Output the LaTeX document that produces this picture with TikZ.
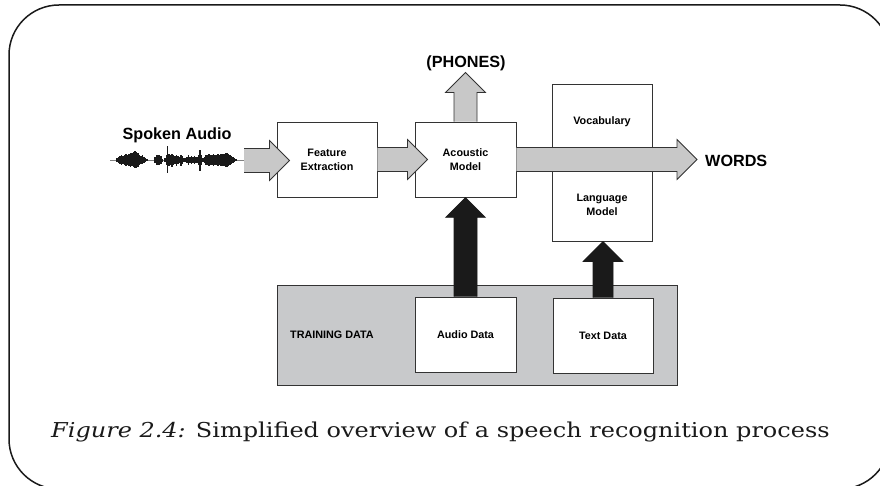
\documentclass[tikz,border=0pt]{standalone}
\usepackage{fontspec}
\setmainfont{DejaVu Serif}
\setsansfont{Liberation Sans}
\newfontfamily\captionfont[FakeStretch=1.17]{DejaVu Serif}
\usetikzlibrary{calc}

\definecolor{arrowgray}{HTML}{C8C8C8}
\definecolor{panelgray}{HTML}{C8C9CB}
\definecolor{edge}{HTML}{333333}
\definecolor{ink}{HTML}{1A1A1A}

% block arrow pointing right: style, start point, tip point
\newcommand\rightblock[3]{%
  \path #2 coordinate (rb-a) #3 coordinate (rb-b);
  \path[#1] let \p1=(rb-a), \p2=(rb-b) in
    (\x1,\y1+12pt) -- (\x2-20pt,\y1+12pt) -- (\x2-20pt,\y1+20pt) -- (\x2,\y1)
    -- (\x2-20pt,\y1-20pt) -- (\x2-20pt,\y1-12pt) -- (\x1,\y1-12pt);
}
% block arrow pointing up: style, start point, tip point, half shaft width
\newcommand\upblock[4]{%
  \path #2 coordinate (ub-a) #3 coordinate (ub-b);
  \path[#1] let \p1=(ub-a), \p2=(ub-b) in
    (\x1-#4,\y1) -- (\x1-#4,\y2-20pt) -- (\x1-20pt,\y2-20pt) -- (\x1,\y2)
    -- (\x1+20pt,\y2-20pt) -- (\x1+#4,\y2-20pt) -- (\x1+#4,\y1);
}

\tikzset{
  box/.style={draw=edge, line width=0.9pt, fill=white, minimum width=100pt,
    minimum height=75pt, inner sep=0pt, align=center,
    font=\sffamily\bfseries\fontsize{10.8}{14}\selectfont},
  lbl/.style={inner sep=0pt, align=center,
    font=\sffamily\bfseries\fontsize{10.8}{14}\selectfont},
  biglbl/.style={inner sep=0pt, font=\sffamily\bfseries\fontsize{16.2}{18}\selectfont},
  grayarrow/.style={fill=arrowgray, draw=edge, line width=0.8pt, line join=miter},
  blackarrow/.style={fill=ink, draw=ink, line width=0.6pt, line join=miter},
}

\begin{document}
\begin{tikzpicture}[x=1pt,y=-1pt]
\useasboundingbox (0,0) rectangle (880,486);
\clip (0,0) rectangle (880,486);

% outer frame
\draw[ink, line width=1.5pt, rounded corners=50pt] (9,5) rectangle (890,489);

% training data panel
\node[draw=edge, line width=0.9pt, fill=panelgray, minimum width=400pt,
  minimum height=100pt, inner sep=0pt] (train) at (477,335) {};
\node[lbl, anchor=west] (trainlbl) at (290,335) {TRAINING DATA};

% processing boxes
\node[box] (fe) at (327,159.5) {Feature\\Extraction};
\node[box, minimum width=101pt] (am) at (465.5,159.5) {Acoustic\\Model};
\node[box, minimum height=157pt] (lm) at (602,162.5) {};
\node[box, minimum width=101pt] (ad) at (465.5,334.5) {Audio Data};
\node[box] (td) at (603,335.5) {Text Data};

% spoken audio waveform
\coordinate (wave-end) at (244,160.5);
\node[biglbl] (spoken) at (177,135) {Spoken Audio};
\draw[gray, line width=0.5pt] (110,160.5) -- (wave-end);
\foreach \x/\a/\b in {
  117/2/2, 118.5/3/3, 120/4/4, 121.5/5/5, 123/4/4, 124.5/5/5, 126/6/6,
  127.5/5/5, 129/6/6, 130.5/7/7, 132/7/6, 133.5/8/7, 135/9/8, 136.5/8/8,
  138/7/7, 139.5/5/5, 141/4/4, 142.5/5/4, 144/3/3, 145.5/2/2, 147/1/1,
  155/3/3, 156.5/5/5, 158/5/5, 159.5/5/5, 161/4/4, 162.5/1.5/1.5,
  165/2/2, 166.5/5/5, 167.5/14/13, 169/6/6, 170.5/5/5, 172/6/7, 173.5/5/5,
  175/4/4, 176.5/5/6, 178/4/4, 179.5/3/3, 181/5/6, 182.5/4/4, 184/2/2,
  185.5/2/2, 187/3/3, 188.5/5/5, 190/3/3, 191.5/4/4, 193/3/3, 194.5/4/4,
  196/3/3, 197.5/3/3, 199/5/5, 200/10/11, 201.5/5/5, 203/2/2, 204.5/3/3,
  206/5/5, 207.5/5/5, 209/6/6, 210.5/5/5, 212/5/5, 213.5/6/6, 215/5/5,
  216.5/5/5, 218/6/6, 219.5/5/5, 221/6/6, 222.5/6/6, 224/6/6, 225.5/7/7,
  227/7/7, 228.5/6/6, 230/5/5, 231.5/4/4, 233/3/3, 234.5/2/2, 236/1/1}
  \draw[ink, line width=1.8pt] (\x,{160.5-\a}) -- (\x,{160.5+\b});

% labels inside the vocabulary / language model box
\node[lbl] (vocab) at (602,122) {Vocabulary};
\node[lbl] (lang) at (602,204.5) {Language\\Model};

% output labels
\node[biglbl, anchor=west] (words) at (705,161) {WORDS};
\node[biglbl] (phones) at (466,63) {(PHONES)};

% gray flow arrows
\rightblock{grayarrow}{(wave-end)}{($(fe.west)+(13,0)$)}
\rightblock{grayarrow}{(fe.east)}{($(am.west)+(13,0)$)}
\rightblock{grayarrow}{(am.east)}{($(words.west)+(-8,0)$)}
\upblock{grayarrow}{(am.north)}{($(am.north)+(0,-49)$)}{11.5pt}

% black training arrows
\upblock{blackarrow}{(ad.north)}{(am.south)}{11.5pt}
\upblock{blackarrow}{(td.north)}{(lm.south)}{10pt}

% caption
\node[anchor=base west, inner sep=0pt, font=\captionfont\fontsize{20.5}{24}\selectfont, text=ink]
  (caption) at (51,437) {\textit{Figure 2.4:} Simplified overview of a speech recognition process};
\end{tikzpicture}
\end{document}
